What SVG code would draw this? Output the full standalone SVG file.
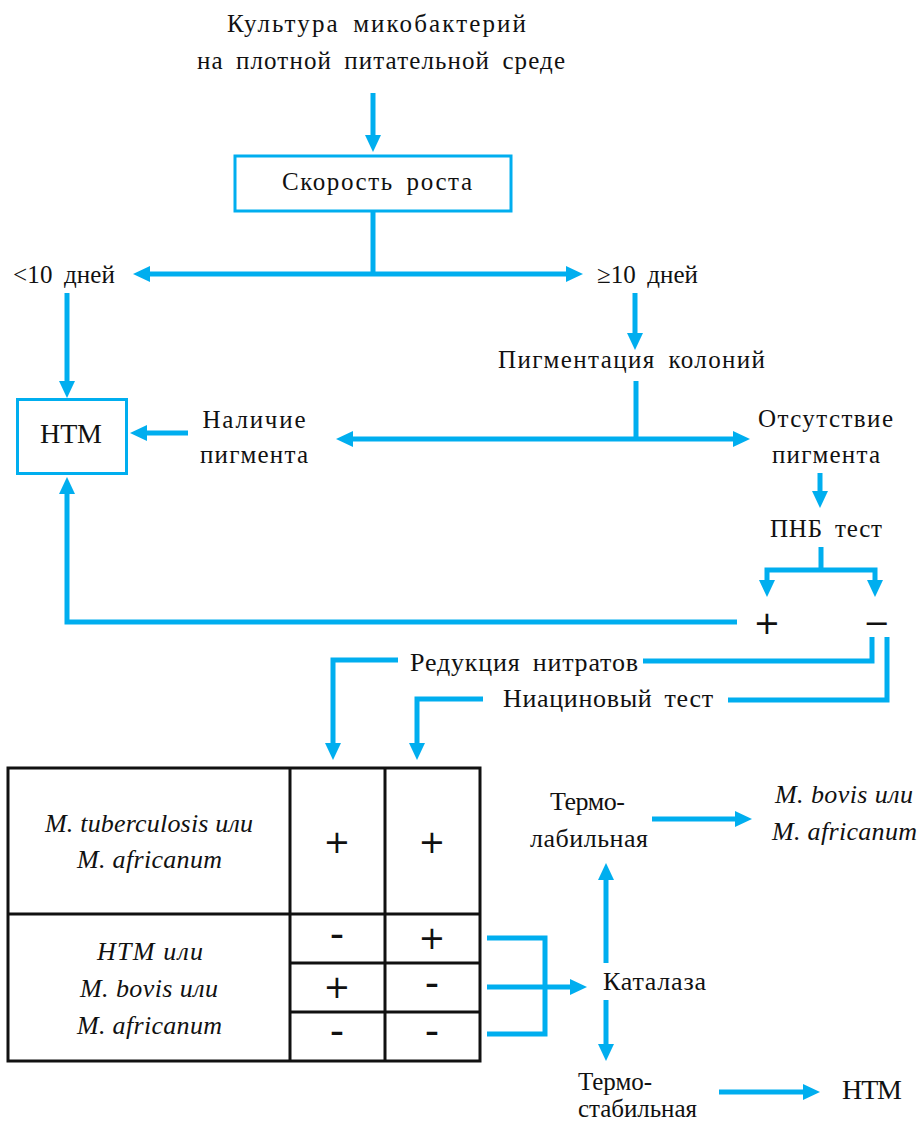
<svg xmlns="http://www.w3.org/2000/svg" width="919" height="1122" viewBox="0 0 919 1122">
<style>
text{fill:#111;font-family:'Liberation Serif','Times New Roman',serif;}
.a{font-size:25px;word-spacing:5px;}
.b{font-size:26px;word-spacing:5px;}
.n{font-size:28px;}
.i{font-size:26px;font-style:italic;}
.s{font-family:'DejaVu Sans',sans-serif;font-size:32px;}
.h{font-family:'DejaVu Sans',sans-serif;font-size:40px;}
.c{fill:none;stroke:#00aeef;stroke-width:5;stroke-linejoin:miter;}
.box{fill:#fff;stroke:#00aeef;stroke-width:3;}
.tb{fill:none;stroke:#111;stroke-width:3;}
</style>
<defs>
<marker id="ah" markerUnits="userSpaceOnUse" markerWidth="17" markerHeight="16" viewBox="0 0 17 16" refX="7" refY="8" orient="auto-start-reverse"><path d="M0,0 L17,8 L0,16 z" fill="#00aeef"/></marker>
</defs>

<g id="connectors">
<path class="c" d="M373,93 V142" marker-end="url(#ah)"/>
<path class="c" d="M373,212 V274"/>
<path class="c" d="M143,274 H573" marker-start="url(#ah)" marker-end="url(#ah)"/>
<path class="c" d="M67,293 V388" marker-end="url(#ah)"/>
<path class="c" d="M635,293 V340" marker-end="url(#ah)"/>
<path class="c" d="M636,381 V439"/>
<path class="c" d="M346,439 H740" marker-start="url(#ah)" marker-end="url(#ah)"/>
<path class="c" d="M188,433 H140" marker-end="url(#ah)"/>
<path class="c" d="M820,473 V498" marker-end="url(#ah)"/>
<path class="c" d="M821,547 V570"/>
<path class="c" d="M767,587 V570 H875 V587" marker-start="url(#ah)" marker-end="url(#ah)"/>
<path class="c" d="M737,622 H67 V487" marker-end="url(#ah)"/>
<path class="c" d="M872,637 V661 H643"/>
<path class="c" d="M887,637 V700 H728"/>
<path class="c" d="M398,660 H333 V750" marker-end="url(#ah)"/>
<path class="c" d="M483,699 H417 V750" marker-end="url(#ah)"/>
<path class="c" d="M487,938 H545 V1034 H487"/>
<path class="c" d="M487,987 H577" marker-end="url(#ah)"/>
<path class="c" d="M606,963 V873" marker-end="url(#ah)"/>
<path class="c" d="M606,1000 V1051" marker-end="url(#ah)"/>
<path class="c" d="M652,819 H742" marker-end="url(#ah)"/>
<path class="c" d="M719,1092 H810" marker-end="url(#ah)"/>
</g>

<g id="culture">
<text class="a" x="376.5" y="32" text-anchor="middle" textLength="299">Культура микобактерий</text>
<text class="a" x="381" y="69" text-anchor="middle" textLength="368">на плотной питательной среде</text>
</g>
<g id="growth">
<rect class="box" x="235" y="156" width="276" height="55"/>
<text class="a" x="377" y="190" text-anchor="middle" textLength="190">Скорость роста</text>
</g>
<g id="lt10"><text class="a" x="13" y="283" textLength="102">&lt;10 дней</text></g>
<g id="ge10"><text class="a" x="597" y="283" textLength="101">≥10 дней</text></g>
<g id="pigmentation"><text class="a" x="631.5" y="368" text-anchor="middle" textLength="267">Пигментация колоний</text></g>
<g id="ntm1">
<rect class="box" x="17.5" y="399.5" width="109" height="74"/>
<text class="n" x="71" y="443" text-anchor="middle" textLength="62">НТМ</text>
</g>
<g id="pig-yes">
<text class="a" x="254" y="428" text-anchor="middle" textLength="103">Наличие</text>
<text class="a" x="254" y="463" text-anchor="middle" textLength="108">пигмента</text>
</g>
<g id="pig-no">
<text class="a" x="825.5" y="427" text-anchor="middle" textLength="135">Отсутствие</text>
<text class="a" x="826" y="463" text-anchor="middle" textLength="108">пигмента</text>
</g>
<g id="pnb"><text class="a" x="826" y="537" text-anchor="middle" textLength="112">ПНБ тест</text></g>
<g id="pnb-plus"><text class="s" x="767" y="634" text-anchor="middle">+</text></g>
<g id="pnb-minus"><text class="s" x="877" y="634" text-anchor="middle">−</text></g>
<g id="nitrate"><text class="b" x="410" y="671" textLength="228">Редукция нитратов</text></g>
<g id="niacin"><text class="b" x="503" y="707" textLength="210">Ниациновый тест</text></g>

<g id="table">
<rect class="tb" x="8" y="768" width="472" height="293"/>
<path class="tb" d="M290,768 V1061 M385,768 V1061 M8,914 H480 M290,963 H480 M290,1012 H480"/>
<text class="i" x="149" y="832" text-anchor="middle" textLength="208">M. tuberculosis или</text>
<text class="i" x="149.5" y="868" text-anchor="middle" textLength="145">M. africanum</text>
<text class="i" x="150" y="960" text-anchor="middle" textLength="106">НТМ или</text>
<text class="i" x="149" y="997" text-anchor="middle" textLength="138">M. bovis или</text>
<text class="i" x="149.5" y="1034" text-anchor="middle" textLength="145">M. africanum</text>
<text class="s" x="337" y="853" text-anchor="middle">+</text>
<text class="s" x="432" y="853" text-anchor="middle">+</text>
<text class="h" x="337" y="948" text-anchor="middle">-</text>
<text class="s" x="432" y="949" text-anchor="middle">+</text>
<text class="s" x="337" y="998" text-anchor="middle">+</text>
<text class="h" x="432" y="997" text-anchor="middle">-</text>
<text class="h" x="337" y="1045" text-anchor="middle">-</text>
<text class="h" x="432" y="1045" text-anchor="middle">-</text>
</g>

<g id="thermolabile">
<text class="b" x="587.5" y="810" text-anchor="middle" textLength="75">Термо-</text>
<text class="b" x="589" y="847" text-anchor="middle" textLength="118">лабильная</text>
</g>
<g id="bovis">
<text class="i" x="844" y="803" text-anchor="middle" textLength="138">M. bovis или</text>
<text class="i" x="844.5" y="840" text-anchor="middle" textLength="145">M. africanum</text>
</g>
<g id="catalase"><text class="b" x="603" y="990" textLength="103">Каталаза</text></g>
<g id="thermostable">
<text class="a" x="578" y="1090" font-size="24" textLength="74">Термо-</text>
<text class="a" x="578" y="1117" font-size="24" textLength="119">стабильная</text>
</g>
<g id="ntm2"><text class="n" x="842" y="1099" textLength="60">НТМ</text></g>
</svg>
